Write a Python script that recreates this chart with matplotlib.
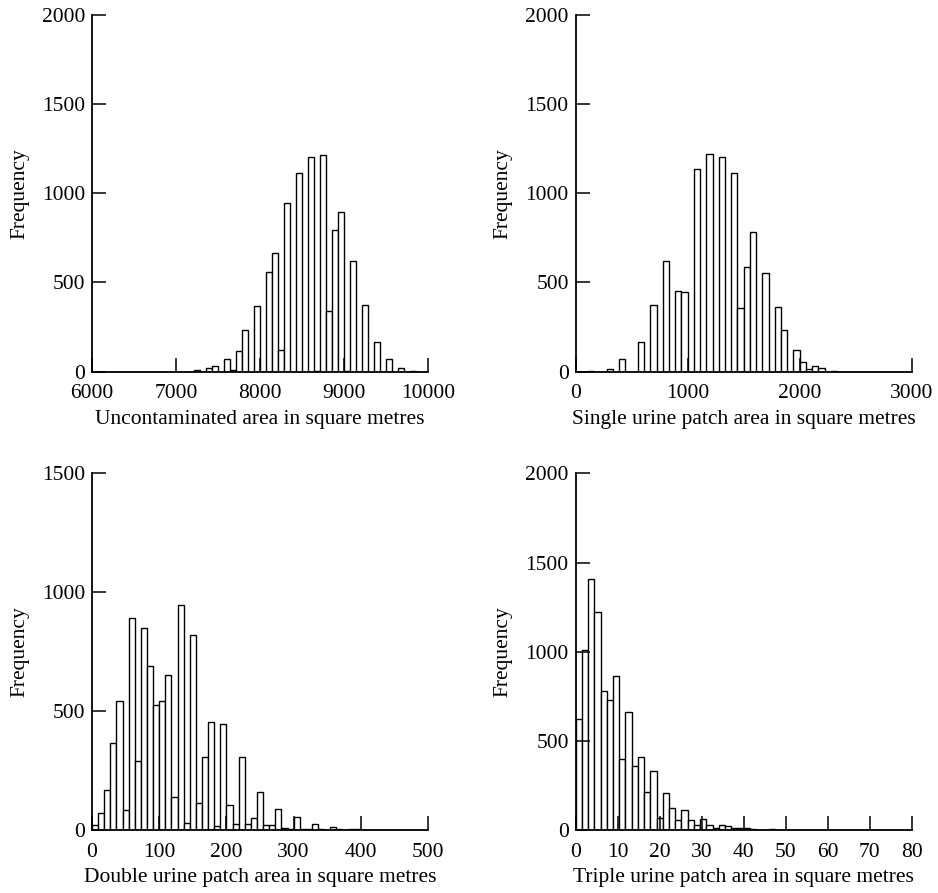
import numpy as np
import matplotlib
matplotlib.use("Agg")
import matplotlib.pyplot as plt

plt.rcParams["font.family"] = ["Liberation Serif", "DejaVu Serif"]
plt.rcParams["font.size"] = 15.5

# ---------------------------------------------------------------------
# histogram counts (equal-width bins over the x range)
# ---------------------------------------------------------------------

uncont_range = (6000, 10000)
uncont_counts = [
    0, 0, 0, 0, 0, 0, 0, 0, 0, 0, 0, 0, 0, 0, 0, 0, 0,
    8, 0, 18, 34, 0, 70, 8, 118, 233, 0, 367, 0, 556, 663, 121, 943, 0,
    1115, 0, 1205, 5, 1213, 342, 793, 896, 5, 622, 0, 373, 0, 168, 0, 71,
    0, 19, 0, 6, 0, 0,
]

single_range = (0, 3000)
single_counts = [
    0, 0, 5, 0, 0, 17, 0, 71, 0, 0, 168, 0, 373, 0, 622, 0, 454, 444, 0,
    1133, 0, 1219, 0, 1204, 0, 1115, 355, 584, 782, 0, 555, 0, 364, 232, 0,
    123, 52, 15, 32, 19, 0, 6, 0, 0, 0, 0, 0, 0, 0, 0, 0, 0, 0, 0,
]

double_range = (0, 500)
double_counts = [
    21, 70, 167, 366, 541, 84, 890, 290, 848, 692, 527, 541, 653, 139, 948,
    31, 820, 115, 307, 454, 17, 446, 105, 24, 307, 27, 49, 160, 20, 22, 87,
    8, 5, 55, 5, 3, 24, 5, 0, 14, 3, 0, 4, 4, 0, 0, 0, 0, 0, 0, 0, 0, 0, 0, 0,
]

triple_range = (0, 80)
triple_counts = [
    620, 1009, 1405, 1224, 779, 727, 864, 400, 664, 359, 411, 213, 331, 69,
    209, 125, 56, 110, 56, 28, 64, 28, 9, 26, 22, 11, 9, 13, 5, 0, 3, 5, 0,
    2, 2, 1, 0, 0, 0, 0, 0, 0, 0, 0, 0, 0, 0, 0, 0, 0, 0, 0, 0, 0,
]

panels = [
    (uncont_range, uncont_counts, 2000, [6000, 7000, 8000, 9000, 10000],
     "Uncontaminated area in square metres"),
    (single_range, single_counts, 2000, [0, 1000, 2000, 3000],
     "Single urine patch area in square metres"),
    (double_range, double_counts, 1500, [0, 100, 200, 300, 400, 500],
     "Double urine patch area in square metres"),
    (triple_range, triple_counts, 2000, list(range(0, 81, 10)),
     "Triple urine patch area in square metres"),
]

positions = [
    [0.0981, 0.5838, 0.3582, 0.3998],
    [0.6137, 0.5838, 0.3582, 0.3998],
    [0.0981, 0.0705, 0.3582, 0.3994],
    [0.6137, 0.0705, 0.3582, 0.3994],
]

fig = plt.figure(figsize=(9.38, 8.93), dpi=100)

for (xr, counts, ymax, xticks, xlabel), pos in zip(panels, positions):
    ax = fig.add_axes(pos)
    edges = np.linspace(xr[0], xr[1], len(counts) + 1)
    ax.bar(edges[:-1], counts, width=np.diff(edges), align="edge",
           color="white", edgecolor="black", linewidth=1.0)
    ax.set_xlim(xr)
    ax.set_ylim(0, ymax)
    ax.set_xticks(xticks)
    ax.set_yticks(np.arange(0, ymax + 1, 500))
    ax.tick_params(direction="in", length=10, width=1.1, labelsize=15.5,
                   colors="black")
    ax.tick_params(axis="x", pad=9)
    ax.tick_params(axis="y", pad=5)
    for side in ("top", "right"):
        ax.spines[side].set_visible(False)
    for side in ("left", "bottom"):
        ax.spines[side].set_linewidth(1.3)
    ax.set_xlabel(xlabel, labelpad=5)
    ax.set_ylabel("Frequency", labelpad=9)

fig.savefig("out.png", dpi=100)
